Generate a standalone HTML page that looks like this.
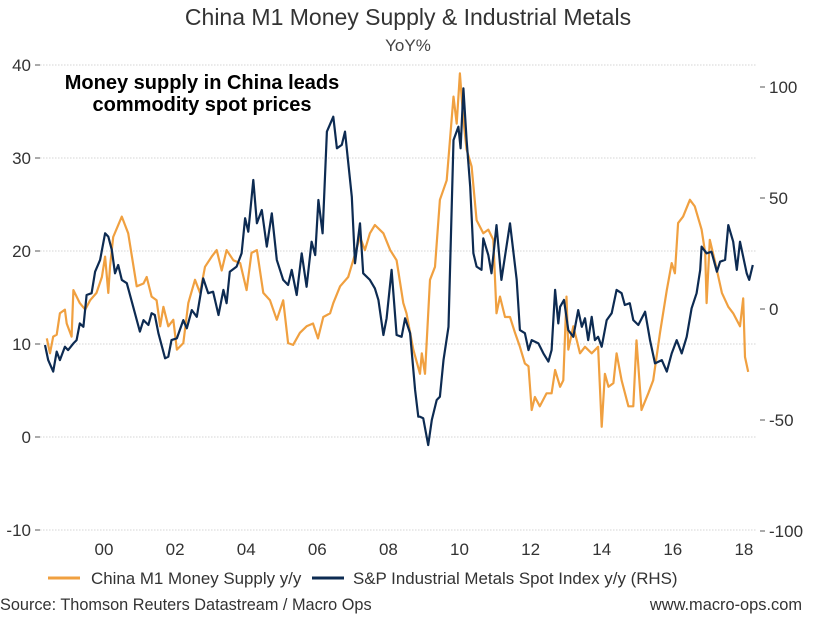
<!DOCTYPE html>
<html><head><meta charset="utf-8"><style>
body{margin:0;background:#fff;width:816px;height:614px;overflow:hidden;font-family:"Liberation Sans",sans-serif;}
svg text{font-family:"Liberation Sans",sans-serif;}
</style></head><body>
<svg id="chart" width="816" height="614" viewBox="0 0 816 614">
<text x="408" y="25" text-anchor="middle" font-size="23" fill="#333">China M1 Money Supply &amp; Industrial Metals</text>
<text x="408" y="51" text-anchor="middle" font-size="17" fill="#444">YoY%</text>
<g id="grid"></g>
<g id="axes"></g>
<g id="series"></g>
<text x="202" y="89" text-anchor="middle" font-size="20" font-weight="bold" fill="#000">Money supply in China leads</text>
<text x="202" y="111" text-anchor="middle" font-size="20" font-weight="bold" fill="#000">commodity spot prices</text>
<g>
<line x1="48" y1="578" x2="80" y2="578" stroke="#f0a040" stroke-width="3"/>
<text x="91" y="584" font-size="16.9" fill="#333">China M1 Money Supply y/y</text>
<line x1="312" y1="578" x2="344" y2="578" stroke="#0d2b52" stroke-width="3"/>
<text x="353" y="584" font-size="16.9" fill="#333">S&amp;P Industrial Metals Spot Index y/y (RHS)</text>
</g>
<text x="0" y="610" font-size="16.3" fill="#333">Source: Thomson Reuters Datastream / Macro Ops</text>
<text x="802" y="610" text-anchor="end" font-size="16.4" fill="#333">www.macro-ops.com</text>
</svg>
<script>
const leftTicks=[40,30,20,10,0,-10];
const rightTicks=[100,50,0,-50,-100];
const xTickYears=[2000,2002,2004,2006,2008,2010,2012,2014,2016,2018];
const xTickLabels=["00","02","04","06","08","10","12","14","16","18"];
const m1Dates=[1998.39,1998.48,1998.57,1998.67,1998.76,1998.90,1998.95,1999.09,1999.14,1999.32,1999.47,1999.61,1999.79,1999.94,2000.03,2000.12,2000.17,2000.26,2000.50,2000.68,2000.92,2001.11,2001.20,2001.34,2001.48,2001.58,2001.67,2001.81,2001.95,2002.05,2002.23,2002.37,2002.56,2002.70,2002.84,2003.03,2003.17,2003.31,2003.45,2003.64,2003.83,2004.01,2004.15,2004.30,2004.48,2004.67,2004.86,2005.04,2005.18,2005.32,2005.51,2005.70,2005.88,2006.02,2006.17,2006.36,2006.45,2006.64,2006.87,2007.01,2007.20,2007.34,2007.48,2007.62,2007.86,2008.05,2008.23,2008.42,2008.51,2008.70,2008.89,2008.94,2009.03,2009.17,2009.31,2009.45,2009.64,2009.83,2009.92,2010.01,2010.11,2010.20,2010.34,2010.48,2010.67,2010.81,2010.95,2011.04,2011.14,2011.28,2011.42,2011.56,2011.70,2011.84,2011.94,2012.03,2012.12,2012.26,2012.45,2012.59,2012.69,2012.83,2012.92,2013.01,2013.06,2013.20,2013.39,2013.53,2013.72,2013.90,2014.00,2014.09,2014.19,2014.33,2014.42,2014.56,2014.75,2014.89,2014.98,2015.12,2015.31,2015.45,2015.64,2015.83,2015.97,2016.06,2016.15,2016.29,2016.48,2016.62,2016.81,2016.91,2016.95,2017.04,2017.18,2017.38,2017.56,2017.70,2017.89,2017.98,2018.03,2018.12];
const m1Values=[10.6,9.0,10.8,11.0,13.3,13.7,12.2,10.8,15.8,14.4,13.7,14.7,15.5,17.2,19.4,15.5,18.3,21.5,23.7,21.9,16.2,16.5,17.2,15.1,14.7,11.9,14.0,11.9,12.6,9.4,10.1,14.4,16.9,15.5,18.3,19.4,20.1,17.9,20.1,19.0,18.7,15.8,19.8,20.1,15.5,14.7,12.6,14.7,10.1,9.9,11.2,11.9,12.2,10.6,12.9,13.3,14.4,16.2,17.2,19.0,21.5,20.1,21.9,22.8,21.9,20.1,19.0,14.4,13.3,9.4,6.8,9.0,6.8,16.9,18.3,25.5,27.6,36.6,33.7,39.1,34.1,30.9,29.1,23.3,21.9,22.3,21.2,13.3,15.1,12.9,12.9,11.2,9.7,7.9,7.6,2.9,4.3,3.3,4.7,4.7,7.2,5.4,6.1,15.1,9.4,11.9,9.0,9.7,9.0,9.7,1.1,6.8,5.4,5.8,9.0,6.1,3.3,3.3,10.4,2.9,4.7,6.1,11.2,15.8,18.7,17.6,23.0,23.7,25.5,24.8,22.3,19.8,14.4,21.2,19.0,15.5,14.0,13.3,11.9,14.9,8.6,7.0];
const metalsDates=[1998.34,1998.43,1998.57,1998.67,1998.76,1998.90,1998.99,1999.14,1999.23,1999.32,1999.42,1999.51,1999.65,1999.75,1999.89,2000.03,2000.12,2000.22,2000.31,2000.40,2000.50,2000.64,2000.82,2001.01,2001.11,2001.25,2001.34,2001.43,2001.53,2001.72,2001.81,2001.90,2002.05,2002.23,2002.33,2002.47,2002.61,2002.79,2002.93,2003.07,2003.22,2003.36,2003.45,2003.54,2003.73,2003.87,2003.97,2004.06,2004.20,2004.30,2004.44,2004.58,2004.72,2004.86,2005.04,2005.18,2005.28,2005.42,2005.56,2005.70,2005.84,2005.94,2006.03,2006.15,2006.27,2006.45,2006.55,2006.69,2006.78,2006.97,2007.06,2007.20,2007.29,2007.48,2007.62,2007.72,2007.86,2007.95,2008.09,2008.23,2008.37,2008.47,2008.61,2008.75,2008.84,2008.89,2008.98,2009.12,2009.22,2009.36,2009.45,2009.55,2009.69,2009.83,2009.97,2010.03,2010.11,2010.20,2010.30,2010.39,2010.48,2010.62,2010.67,2010.81,2010.90,2011.04,2011.18,2011.42,2011.61,2011.70,2011.84,2011.94,2012.03,2012.22,2012.36,2012.50,2012.59,2012.69,2012.78,2012.83,2012.94,2013.06,2013.20,2013.34,2013.44,2013.53,2013.62,2013.72,2013.81,2013.90,2014.00,2014.14,2014.28,2014.42,2014.56,2014.65,2014.79,2014.89,2015.03,2015.22,2015.36,2015.50,2015.69,2015.83,2015.97,2016.11,2016.25,2016.39,2016.53,2016.67,2016.77,2016.81,2016.95,2017.09,2017.24,2017.33,2017.47,2017.56,2017.70,2017.80,2017.89,2018.08,2018.15,2018.25];
const metalsValues=[-16.2,-23.0,-28.2,-19.2,-23.0,-17.0,-18.5,-15.5,-14.0,-6.5,-8.0,6.3,7.1,16.8,22.1,34.1,32.6,26.6,16.1,19.8,13.1,11.6,1.0,-10.2,-5.0,-7.2,-1.9,-2.7,-10.9,-22.2,-21.5,-14.0,-13.2,-5.0,-8.7,-0.5,-3.5,13.8,7.1,7.8,-2.7,8.6,2.6,16.8,19.1,25.1,40.9,34.8,58.1,38.6,44.6,28.1,43.1,22.1,13.1,10.8,17.6,6.3,25.1,10.0,30.3,24.3,49.1,34.1,79.9,86.6,72.4,73.9,79.9,50.6,20.6,38.6,16.1,13.1,9.3,4.1,-11.7,-4.2,17.6,-11.7,-12.5,-4.2,-10.9,-36.5,-48.5,-48.5,-49.2,-61.3,-50.0,-41.0,-39.5,-23.0,-8.0,76.1,82.1,72.4,99.4,76.1,55.1,25.1,19.1,17.6,31.8,24.3,16.1,37.8,13.1,38.6,13.1,-9.5,-10.9,-18.5,-14.0,-15.5,-20.0,-23.7,-18.5,8.6,-6.5,1.0,4.1,-9.5,-12.5,-0.5,-8.0,-4.2,-14.0,-3.5,-14.0,-12.5,-17.0,-5.0,-1.9,8.6,7.1,1.8,2.6,-5.0,-7.2,-1.2,-14.0,-24.5,-23.0,-28.2,-20.0,-14.0,-20.0,-12.5,0.3,7.1,17.6,28.1,25.1,25.8,16.8,21.3,22.1,37.8,30.3,17.6,30.3,16.1,13.1,19.8];

const NS='http://www.w3.org/2000/svg';
function xPos(yr){return 104+(yr-2000)*35.55;}
function yLeft(v){return 437-v*9.3;}
function yRight(v){return 309-v*2.22;}
function mk(tag,attrs,parent){const e=document.createElementNS(NS,tag);for(const k in attrs)e.setAttribute(k,attrs[k]);parent.appendChild(e);return e;}
const grid=document.getElementById('grid'),axes=document.getElementById('axes'),series=document.getElementById('series');
leftTicks.forEach(t=>{
  const y=yLeft(t);
  const g=mk('line',{x1:40,x2:757,y1:y,y2:y,stroke:'#d4d4d4','stroke-width':1,'stroke-dasharray':'1.5 1.5'},grid);
  
  
  const tk=mk('line',{x1:35,x2:40,y1:y,y2:y,stroke:'#555','stroke-width':1},axes);
  
  
  const tx=mk('text',{x:31,y:y+6,'text-anchor':'end','font-size':17,fill:'#333'},axes);
  tx.textContent=String(t);
  
  
});
rightTicks.forEach(t=>{
  const y=yRight(t);
  const tk=mk('line',{x1:760,x2:765,y1:y,y2:y,stroke:'#555','stroke-width':1},axes);
  
  
  const tx=mk('text',{x:769,y:y+6,'text-anchor':'start','font-size':17,fill:'#333'},axes);
  tx.textContent=String(t);
  
  
});
xTickYears.forEach((yr,i)=>{
  const tx=mk('text',{x:xPos(yr),y:555,'text-anchor':'middle','font-size':17,fill:'#333'},axes);
  tx.textContent=xTickLabels[i];
  
  
});
function drawLine(dates,vals,yf,color,name){
  const d=dates.map((yr,i)=>(i?'L':'M')+xPos(yr).toFixed(1)+','+yf(vals[i]).toFixed(1)).join('');
  const p=mk('path',{d:d,fill:'none',stroke:color,'stroke-width':2.2,'stroke-linejoin':'round'},series);
  
  
}
drawLine(m1Dates,m1Values,yLeft,'#f0a040','m1-line');
drawLine(metalsDates,metalsValues,yRight,'#0d2b52','metals-line');
</script>
</body></html>
